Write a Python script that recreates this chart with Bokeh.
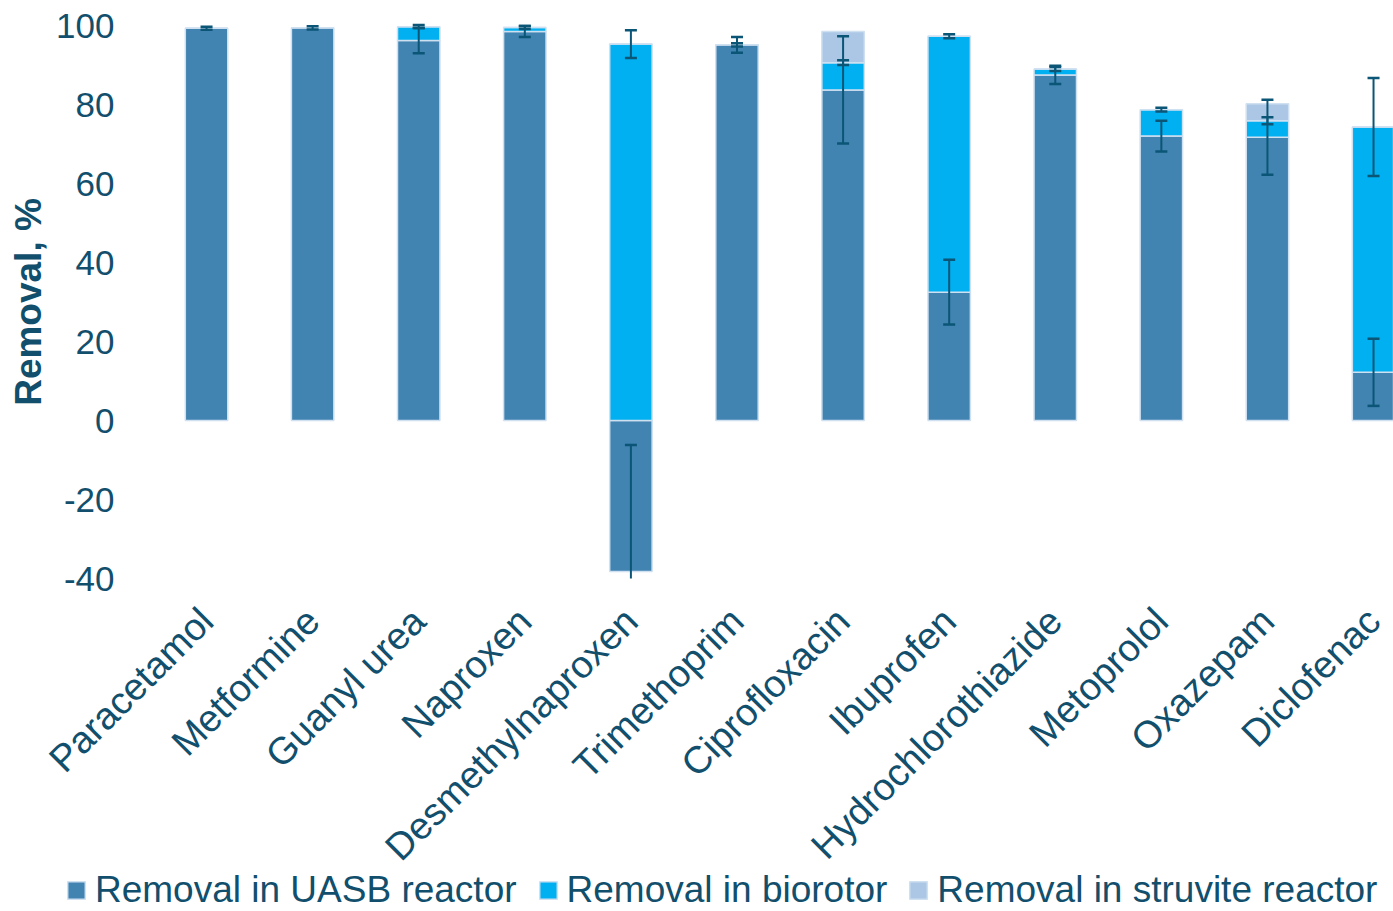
import math
from bokeh.plotting import figure
from bokeh.models import (ColumnDataSource, FixedTicker, Range1d, Whisker, TeeHead,
                          Legend, LegendItem)
from bokeh.embed import file_html
from bokeh.resources import INLINE

categories = ["Paracetamol", "Metformine", "Guanyl urea", "Naproxen", "Desmethylnaproxen",
              "Trimethoprim", "Ciprofloxacin", "Ibuprofen", "Hydrochlorothiazide",
              "Metoprolol", "Oxazepam", "Diclofenac"]
uasb = [99.3, 99.4, 96.2, 98.5, -38.2, 95.1, 83.7, 32.5, 87.5, 72.0, 71.7, 12.2]
biorotor = [0.0, 0.0, 3.5, 1.0, 95.3, 0.0, 6.9, 64.8, 1.5, 6.7, 4.2, 62.1]
struvite = [0.0, 0.0, 0.0, 0.0, 0.0, 0.0, 7.9, 0.0, 0.0, 0.0, 4.3, 0.0]
uasb_err = [0.4, 0.4, 3.2, 1.4, 32.0, 2.0, 13.6, 8.2, 2.3, 3.9, 9.5, 8.5]
biorotor_err = [None, None, 0.4, 0.4, 3.5, 0.4, 0.6, 0.5, 0.5, 0.5, 0.9, 12.4]
y_ticks = [-40, -20, 0, 20, 40, 60, 80, 100]

series_names = ["Removal in UASB reactor", "Removal in biorotor", "Removal in struvite reactor"]
colors = ["#4183B1", "#00B0F0", "#ABC7E5"]
text_color = "#114F6D"
err_color = "#0B5676"
font = "Liberation Sans"

x = list(range(len(categories)))
y_min, y_max = y_ticks[0], y_ticks[-1]

# layout geometry (screen px): whole figure is the plot frame; axes drawn at fixed locations
W, H = 1393, 911
plot_left = 153                        # left edge of first category band (px)
plot_top, plot_bottom = 25, 578        # pixel rows of 100 and -40
px_per_cat = 106.09
px_per_unit = (plot_bottom - plot_top) / (y_max - y_min)
x_start = -0.5 - plot_left / px_per_cat
x_end = x_start + W / px_per_cat
y_end = y_max + plot_top / px_per_unit
y_start = y_end - H / px_per_unit

# Excel-style stacking: positives stack upward from 0, negatives downward from 0
pos_base = [0.0] * len(x)
neg_base = [0.0] * len(x)
stacks = []
for vals in (uasb, biorotor, struvite):
    bottoms, tops = [], []
    for i, v in enumerate(vals):
        if v >= 0:
            b = pos_base[i]; t = b + v; pos_base[i] = t
        else:
            b = neg_base[i]; t = b + v; neg_base[i] = t
        bottoms.append(b); tops.append(t)
    stacks.append((bottoms, tops))

p = figure(width=W, height=H, output_backend="svg", toolbar_location=None,
           x_range=Range1d(x_start, x_end), y_range=Range1d(y_start, y_end),
           min_border_left=0, min_border_right=0, min_border_top=0, min_border_bottom=0)
p.outline_line_color = None
p.xgrid.visible = False
p.ygrid.visible = False
p.background_fill_color = "white"

renderers = []
for (bottoms, tops), c in zip(stacks, colors):
    src = ColumnDataSource(dict(x=x, bottom=bottoms, top=tops))
    r = p.vbar(x="x", bottom="bottom", top="top", width=0.4, source=src,
               fill_color=c, line_color="#CFE0F1", line_width=1.5)
    renderers.append(r)

def head():
    return TeeHead(size=12, line_color=err_color, line_width=2.5)

def add_err(tops, errs):
    full = dict(x=[], lower=[], upper=[])
    cut = dict(x=[], lower=[], upper=[])
    for i, (t, e) in enumerate(zip(tops, errs)):
        if e is None:
            continue
        lo, hi = t - e, t + e
        d = full if lo >= y_min else cut
        d["x"].append(i); d["lower"].append(max(lo, y_min)); d["upper"].append(hi)
    for d, low_head in ((full, head()), (cut, None)):
        if not d["x"]:
            continue
        w = Whisker(base="x", lower="lower", upper="upper", source=ColumnDataSource(d),
                    line_color=err_color, line_width=2, level="overlay",
                    upper_head=head(), lower_head=low_head)
        p.add_layout(w)

add_err(stacks[0][1], uasb_err)
add_err(stacks[1][1], biorotor_err)

# x axis drawn at y = -40
p.xaxis.fixed_location = y_min
p.xaxis.ticker = FixedTicker(ticks=x)
p.xaxis.major_label_overrides = {i: c for i, c in enumerate(categories)}
p.xaxis.major_label_orientation = math.pi / 4
p.xaxis.axis_line_color = None
p.xaxis.major_tick_line_color = None
p.xaxis.minor_tick_line_color = None
p.xaxis.major_label_text_font = font
p.xaxis.major_label_text_font_size = "38px"
p.xaxis.major_label_text_color = text_color
p.xaxis.major_label_standoff = 30

# y axis drawn at the left edge of the category area
p.yaxis.fixed_location = -0.5
p.yaxis.bounds = (y_min, y_max)
p.yaxis.ticker = FixedTicker(ticks=y_ticks)
p.yaxis.major_label_overrides = {t: str(t) for t in y_ticks}
p.yaxis.axis_line_color = None
p.yaxis.major_tick_line_color = None
p.yaxis.minor_tick_line_color = None
p.yaxis.major_label_text_font = font
p.yaxis.major_label_text_font_size = "35px"
p.yaxis.major_label_text_color = text_color
p.yaxis.major_label_standoff = 33
p.yaxis.axis_label = "Removal, %"
p.yaxis.axis_label_text_font = font
p.yaxis.axis_label_text_font_size = "37px"
p.yaxis.axis_label_text_font_style = "bold"
p.yaxis.axis_label_text_color = text_color
p.yaxis.axis_label_standoff = 4

legend = Legend(items=[LegendItem(label=n, renderers=[r]) for n, r in zip(series_names, renderers)],
                orientation="horizontal", location=(65, 0),
                glyph_width=22, glyph_height=22, label_standoff=8, spacing=20,
                padding=0, margin=0, border_line_color=None, background_fill_alpha=0,
                label_text_font=font, label_text_font_size="37px", label_text_color=text_color)
p.add_layout(legend, "center")

open("out.html", "w").write(file_html(p, INLINE))
